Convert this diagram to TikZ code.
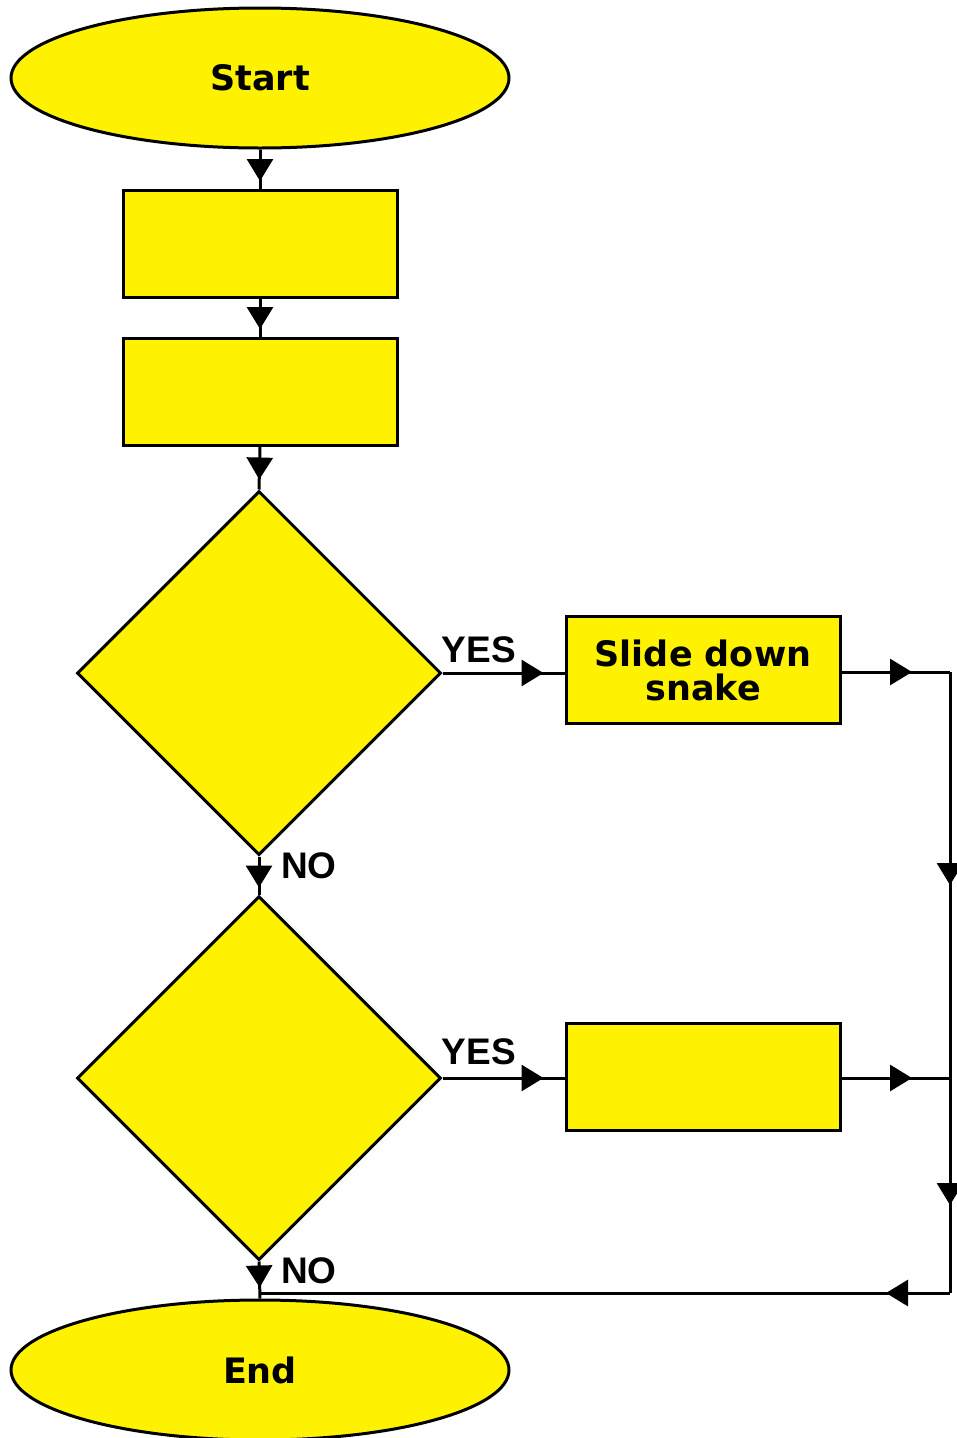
\documentclass[tikz,border=0pt]{standalone}
\usepackage{fontspec}
\setmainfont{DejaVu Sans}
\newfontfamily\lblfont{Liberation Sans}
\usetikzlibrary{shapes.geometric,arrows.meta,decorations.markings}

\tikzset{
  flow/.style={draw=black, fill=yellow, line width=3pt},
  term/.style={flow, ellipse, minimum width=498pt, minimum height=140pt, inner sep=0pt,
               font=\bfseries\fontsize{35}{40}\selectfont},
  proc/.style={flow, rectangle, minimum width=274pt, minimum height=107pt, inner sep=0pt,
               align=center, font=\bfseries\fontsize{35}{34}\selectfont},
  decide/.style={flow, diamond, minimum width=364pt, minimum height=364pt, inner sep=0pt},
  lbl/.style={font=\lblfont\bfseries\fontsize{37}{40}\selectfont, inner sep=0pt},
  link/.style={line width=3pt},
  tipat/.style={postaction={decorate},
    decoration={markings, mark=at position #1 with {\arrow{Triangle[length=22pt,width=26pt]}}}},
}

\begin{document}
\begin{tikzpicture}[x=1pt, y=-1pt]
  % page frame
  \fill[white] (0,0) rectangle (956,1438);
  \useasboundingbox (0,0) rectangle (956,1438);

  % main column
  \node[term]   (start) at (260,78)   {Start};
  \node[proc]   (p1)    at (260,244)  {};
  \node[proc]   (p2)    at (260,392)  {};
  \node[decide] (d1)    at (259,673)  {};
  \node[decide] (d2)    at (259,1078) {};
  \node[term]   (stop)  at (260,1370) {End};

  % side boxes
  \node[proc] (snake) at (703,670)  {Slide down\\snake};
  \node[proc] (p4)    at (703,1077) {};

  % return path corners
  \coordinate (r1) at (950,672);
  \coordinate (r2) at (950,1078);
  \coordinate (r3) at (950,1293);
  \coordinate (r4) at (260,1293);

  % connectors
  \draw[link, tipat=-8pt]  (start.south) -- (p1.north);
  \draw[link, tipat=-8pt]  (p1.south) -- (p2.north);
  \draw[link, tipat=-10pt] (p2.south) -- (d1.north);
  \draw[link, tipat=-7pt]  (d1.south) -- (d2.north);
  \draw[link, tipat=-11pt] (d2.south) -- (stop.north);

  \draw[link, tipat=-21pt] (d1.east) -- (snake.west |- d1.east);
  \draw[link, tipat=-21pt] (d2.east) -- (p4.west |- d2.east);

  \draw[link, tipat=-38pt] (snake.east |- r1) -- (r1);
  \draw[link, tipat=-38pt] (p4.east |- r2) -- (r2);
  \draw[link, tipat=213pt] (r1) -- (r2);
  \draw[link, tipat=127pt] (r2) -- (r3);
  \draw[link, tipat=64pt]  (r3) -- (r4);

  % branch labels
  \node[lbl] (y1) at (479,650)  {YES};
  \node[lbl] (y2) at (479,1052) {YES};
  \node[lbl] (n1) at (309,866)  {NO};
  \node[lbl] (n2) at (309,1271) {NO};
\end{tikzpicture}
\end{document}
